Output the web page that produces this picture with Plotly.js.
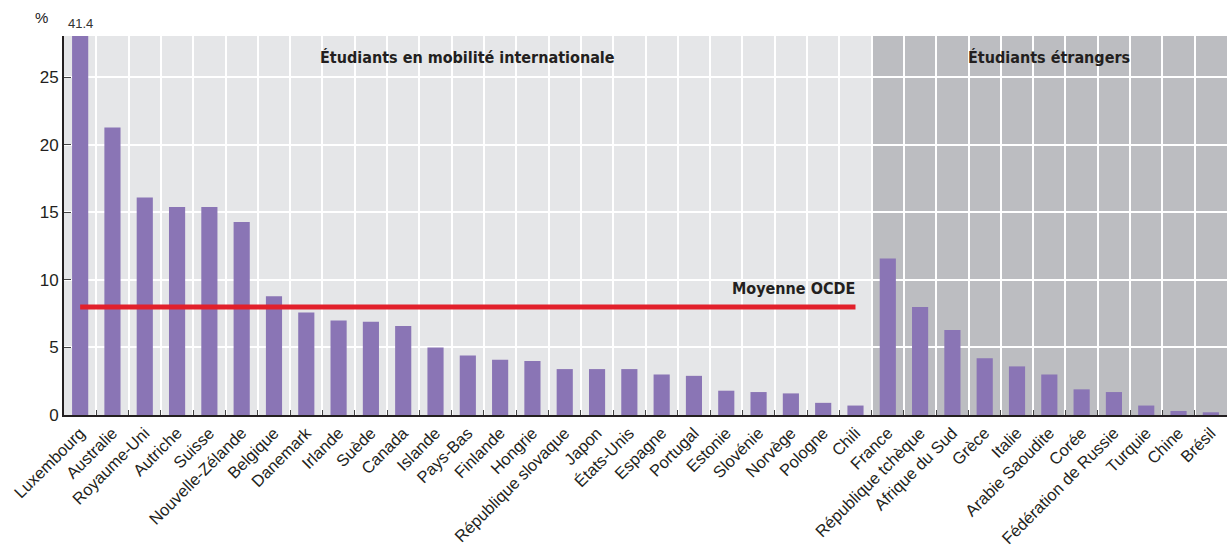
<!DOCTYPE html>
<html>
<head>
<meta charset="utf-8">
<script src="https://cdn.plot.ly/plotly-3.0.1.min.js"></script>
<style>
html,body{margin:0;padding:0;background:#fff;}
#chart{width:1227px;height:549px;}
</style>
</head>
<body>
<div id="chart"></div>
<script>
// Students in international mobility (left group)
const mobilityCountries = ["Luxembourg","Australie","Royaume-Uni","Autriche","Suisse","Nouvelle-Zélande","Belgique","Danemark","Irlande","Suède","Canada","Islande","Pays-Bas","Finlande","Hongrie","République slovaque","Japon","États-Unis","Espagne","Portugal","Estonie","Slovénie","Norvège","Pologne","Chili"];
const mobilityValues = [41.4,21.3,16.1,15.4,15.4,14.3,8.8,7.6,7.0,6.9,6.6,5.0,4.4,4.1,4.0,3.4,3.4,3.4,3.0,2.9,1.8,1.7,1.6,0.9,0.7];
// Foreign students (right group)
const foreignCountries = ["France","République tchèque","Afrique du Sud","Grèce","Italie","Arabie Saoudite","Corée","Fédération de Russie","Turquie","Chine","Brésil"];
const foreignValues = [11.6,8.0,6.3,4.2,3.6,3.0,1.9,1.7,0.7,0.3,0.2];
const oecdMean = 8.0;
const yTicks = [0,5,10,15,20,25];
const groupLabels = ["Étudiants en mobilité internationale","Étudiants étrangers"];
const meanLabel = "Moyenne OCDE";
const yUnit = "%";

const categories = mobilityCountries.concat(foreignCountries);
const values = mobilityValues.concat(foreignValues);
const yMax = 28.07;

const FONT = '"Liberation Sans",Arial,sans-serif';
const BOLD = '"DejaVu Sans Condensed","Liberation Sans",Arial,sans-serif';

const nLeft = mobilityCountries.length;
const nAll = categories.length;

const traces = [
  {
    type: 'bar',
    x: categories,
    y: values,
    marker: {color: '#8a75b5'},
    width: 0.5,
    hoverinfo: 'x+y',
    showlegend: false
  },
  {
    type: 'scatter',
    mode: 'lines',
    x: [mobilityCountries[0], mobilityCountries[nLeft-1]],
    y: [oecdMean, oecdMean],
    line: {color: '#e2202b', width: 5},
    showlegend: false,
    hoverinfo: 'skip'
  }
];

// value labels for clipped bars
const clipped = [];
values.forEach((v, i) => { if (v > yMax) clipped.push({i, v}); });

const annotations = [
  {xref: 'paper', yref: 'paper', x: 0, y: 1, xshift: -31, yshift: 19, text: yUnit, showarrow: false,
   font: {family: FONT, size: 15, color: '#222'}, xanchor: 'left', yanchor: 'middle'},
  {xref: 'x', yref: 'y', x: (nLeft - 1) / 2, y: 26.5, text: '<b>' + groupLabels[0] + '</b>', showarrow: false,
   font: {family: BOLD, size: 16, color: '#231f20'}, xanchor: 'center', yanchor: 'middle'},
  {xref: 'x', yref: 'y', x: nLeft + (nAll - nLeft - 1) / 2, y: 26.5, text: '<b>' + groupLabels[1] + '</b>', showarrow: false,
   font: {family: BOLD, size: 16, color: '#231f20'}, xanchor: 'center', yanchor: 'middle'},
  {xref: 'x', yref: 'y', x: nLeft - 1, y: oecdMean, yshift: 18, xshift: 2, text: '<b>' + meanLabel + '</b>', showarrow: false,
   font: {family: BOLD, size: 16, color: '#231f20'}, xanchor: 'right', yanchor: 'middle'}
];
clipped.forEach(c => {
  annotations.push({xref: 'x', yref: 'paper', x: categories[c.i], y: 1, yshift: 13, text: String(c.v), showarrow: false,
    font: {family: FONT, size: 13, color: '#333'}, xanchor: 'center', yanchor: 'middle'});
});

const layout = {
  width: 1227,
  height: 549,
  margin: {l: 64, r: 0, t: 36, b: 134, pad: 0},
  paper_bgcolor: '#ffffff',
  plot_bgcolor: '#e5e6e8',
  bargap: 0.5,
  font: {family: FONT, color: '#231f20'},
  xaxis: {
    type: 'category',
    categoryorder: 'array',
    categoryarray: categories,
    tickson: 'boundaries',
    showgrid: true,
    gridcolor: '#ffffff',
    gridwidth: 2,
    ticks: 'inside',
    ticklen: 5,
    tickwidth: 1,
    tickcolor: '#444',
    tickangle: -45,
    tickfont: {family: FONT, size: 16.5, color: '#231f20'},
    showline: true,
    linecolor: '#231f20',
    linewidth: 2,
    zeroline: false,
    range: [-0.5, nAll - 0.5],
    fixedrange: true
  },
  yaxis: {
    range: [0, yMax],
    tickvals: yTicks,
    ticktext: yTicks.map(String),
    showgrid: true,
    gridcolor: '#ffffff',
    gridwidth: 2,
    ticks: 'inside',
    ticklen: 7,
    tickwidth: 1,
    tickcolor: '#444',
    tickfont: {family: FONT, size: 17, color: '#231f20'},
    showline: true,
    linecolor: '#231f20',
    linewidth: 2,
    zeroline: false,
    fixedrange: true
  },
  shapes: [
    {type: 'rect', xref: 'x', yref: 'paper', x0: nLeft - 0.5, x1: nAll - 0.5, y0: 0, y1: 1,
     fillcolor: '#bcbdc1', line: {width: 0}, layer: 'below'}
  ],
  annotations: annotations,
  showlegend: false
};

Plotly.newPlot('chart', traces, layout, {displayModeBar: false, staticPlot: true});
</script>
</body>
</html>
